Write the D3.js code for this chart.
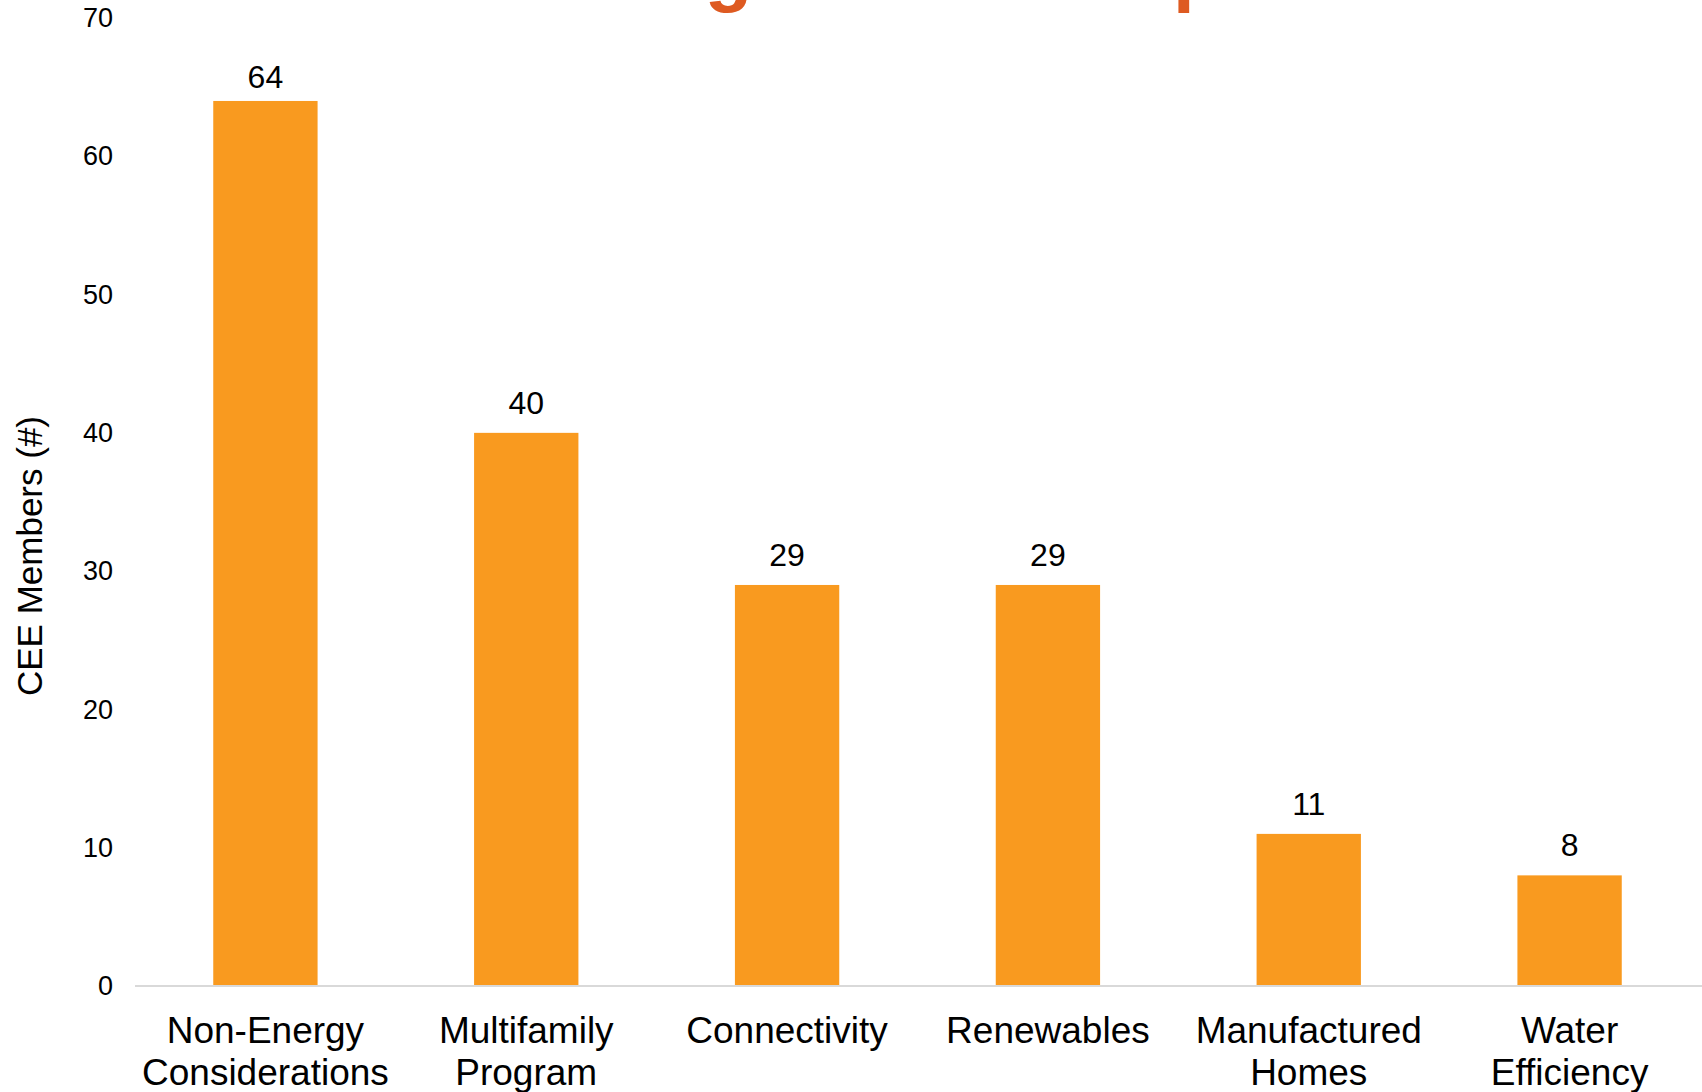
<!DOCTYPE html>
<html>
<head>
<meta charset="utf-8">
<script src="https://cdn.jsdelivr.net/npm/d3@7"></script>
<style>
  html, body { margin: 0; padding: 0; background: #fff; }
  svg { display: block; font-family: "Liberation Sans", Arial, sans-serif; }
</style>
</head>
<body>
<svg id="chart" width="1702" height="1092"></svg>
<script>
// Chart data
const categories = [
  ['Non-Energy', 'Considerations'],
  ['Multifamily', 'Program'],
  ['Connectivity'],
  ['Renewables'],
  ['Manufactured', 'Homes'],
  ['Water', 'Efficiency']
];
const members = [64, 40, 29, 29, 11, 8];
const yTicks = [0, 10, 20, 30, 40, 50, 60, 70];
const titleText = 'Member Program Development';
const yTitle = 'CEE Members (#)';

const svg = d3.select('#chart');
const keys = categories.map(c => c.join(' '));

const x = d3.scaleBand()
    .domain(keys)
    .range([135, 1700])
    .paddingInner(0.6)
    .paddingOuter(0.3);
const y = d3.scaleLinear()
    .domain([0, 70])
    .range([986, 18]);

//Title sits above the visible area; only descenders show.
svg.append('text')
    .attr('x', 254)
    .attr('y', -3)
    .attr('font-size', '78px')
    .attr('font-weight', 'bold')
    .attr('fill', '#DE5A21')
    .text(titleText);

//Bars.
svg.append('g')
    .selectAll('rect')
    .data(members)
    .join('rect')
    .attr('x', (d, i) => x(keys[i]))
    .attr('y', d => y(d))
    .attr('width', x.bandwidth())
    .attr('height', d => y(0) - y(d))
    .attr('fill', '#F99A1F');

//Value labels.
svg.append('g')
    .selectAll('text')
    .data(members)
    .join('text')
    .attr('x', (d, i) => x(keys[i]) + x.bandwidth()/2)
    .attr('y', d => Math.max(y(d) - 19, 88))
    .attr('text-anchor', 'middle')
    .attr('font-size', '32px')
    .attr('fill', '#000')
    .text(d => d);

//Y axis, labels only.
const yAxis = svg.append('g')
    .attr('transform', 'translate(113,0)')
    .call(d3.axisLeft(y).tickValues(yTicks).tickSize(0).tickPadding(0));
yAxis.select('.domain').remove();
yAxis.selectAll('text')
    .attr('font-size', '27px')
    .attr('font-family', '"Liberation Sans", Arial, sans-serif')
    .attr('fill', '#000');

//Baseline.
svg.append('line')
    .attr('x1', 135)
    .attr('x2', 1702)
    .attr('y1', y(0))
    .attr('y2', y(0))
    .attr('stroke', '#D9D9D9')
    .attr('stroke-width', 2);

//Category labels.
svg.append('g')
    .selectAll('text')
    .data(categories)
    .join('text')
    .attr('text-anchor', 'middle')
    .attr('font-size', '37px')
    .attr('fill', '#000')
    .each(function(lines, i) {
        const cx = x(keys[i]) + x.bandwidth()/2;
        d3.select(this)
            .selectAll('tspan')
            .data(lines)
            .join('tspan')
            .attr('x', cx)
            .attr('y', (l, j) => 1043 + j*42)
            .text(l => l);
    });

//Y axis title.
svg.append('text')
    .attr('transform', 'translate(42,556) rotate(-90)')
    .attr('text-anchor', 'middle')
    .attr('font-size', '35px')
    .attr('fill', '#000')
    .text(yTitle);
</script>
</body>
</html>
